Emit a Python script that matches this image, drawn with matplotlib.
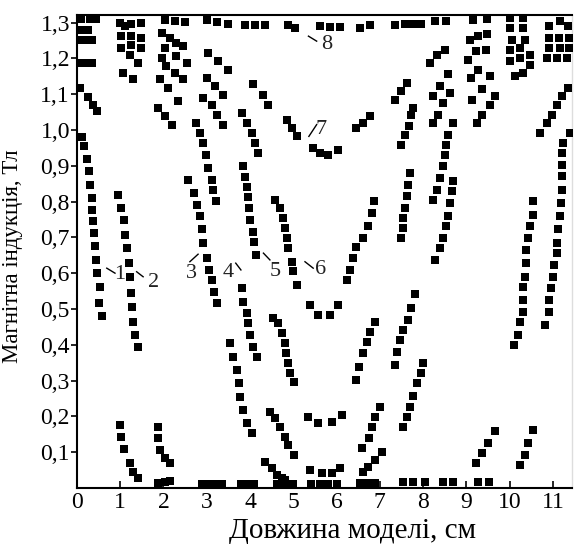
import matplotlib
matplotlib.use("Agg")
import matplotlib.pyplot as plt

# curves (x in cm, y in T)
c1_x = [0.11, 0.16, 0.24, 0.28, 0.30, 0.34, 0.36, 0.38, 0.39, 0.42, 0.44, 0.46, 0.53, 0.52, 0.57]
c1_y = [0.98, 0.955, 0.92, 0.886, 0.846, 0.81, 0.777, 0.746, 0.712, 0.676, 0.637, 0.60, 0.561, 0.517, 0.48]
c1_top_x = [0.07, 0.26, 0.38, 0.47]
c1_top_y = [1.117, 1.091, 1.071, 1.054]
corner_x = [0.05, 0.20, 0.35, 0.05, 0.20, 0.35, 0.10, 0.25, 0.10, 0.30, 0.45]
corner_y = [1.187, 1.187, 1.187, 1.25, 1.25, 1.25, 1.28, 1.28, 1.31, 1.31, 1.31]

c2_x = [0.95, 1.03, 1.09, 1.11, 1.15, 1.21, 1.22, 1.26, 1.28, 1.29, 1.34, 1.42]
c2_y = [0.819, 0.782, 0.749, 0.707, 0.67, 0.628, 0.59, 0.544, 0.506, 0.464, 0.427, 0.395]
c2_low_x = [0.99, 1.03, 1.09, 1.22, 1.30, 1.42]
c2_low_y = [0.176, 0.143, 0.109, 0.069, 0.046, 0.027]
c2b_low_x = [1.88, 1.88, 1.92, 2.03, 2.15]
c2b_low_y = [0.171, 0.139, 0.106, 0.083, 0.069]

c3_x = [2.57, 2.70, 2.78, 2.84, 2.90, 2.92, 3.00, 3.06, 3.11, 3.17, 3.23]
c3_y = [0.861, 0.824, 0.791, 0.759, 0.722, 0.684, 0.642, 0.609, 0.581, 0.548, 0.516]
c3_up_x = [2.75, 2.84, 2.92, 2.98, 3.03, 3.11, 3.15, 3.21]
c3_up_y = [1.02, 0.992, 0.964, 0.931, 0.894, 0.861, 0.833, 0.801]

c4a_x = [3.83, 3.88, 3.94, 3.96, 3.98, 4.01, 4.06, 4.09, 4.14]
c4a_y = [0.898, 0.869, 0.841, 0.813, 0.781, 0.749, 0.716, 0.688, 0.651]
c4b_x = [3.81, 3.84, 3.92, 3.96, 4.01, 4.07, 4.15]
c4b_y = [0.558, 0.52, 0.488, 0.46, 0.427, 0.395, 0.365]
c4c_x = [3.54, 3.61, 3.69, 3.75, 3.78, 3.84, 3.92, 4.04]
c4c_y = [0.404, 0.367, 0.33, 0.292, 0.255, 0.218, 0.181, 0.153]

c5a_x = [3.81, 3.92, 4.04, 4.11, 4.19]
c5a_y = [1.047, 1.02, 0.992, 0.964, 0.936]
c5b_x = [4.07, 4.31, 4.42]
c5b_y = [1.127, 1.097, 1.071]
c5_low_x = [4.54, 4.65, 4.73, 4.81, 4.82, 4.87, 4.92, 5.02]
c5_low_y = [0.474, 0.46, 0.432, 0.404, 0.376, 0.348, 0.32, 0.297]
c5_low2_x = [4.46, 4.58, 4.69, 4.81, 4.88, 5.02]
c5_low2_y = [0.213, 0.195, 0.171, 0.143, 0.12, 0.092]
c5_low3_x = [4.34, 4.50, 4.62, 4.73, 4.81]
c5_low3_y = [0.073, 0.055, 0.036, 0.027, 0.022]

c6_x = [4.58, 4.69, 4.77, 4.81, 4.85, 4.88, 4.96, 4.99, 5.08]
c6_y = [0.805, 0.782, 0.754, 0.726, 0.698, 0.67, 0.632, 0.605, 0.567]

c7_x = [4.85, 4.96, 5.08, 5.46, 5.62, 5.81, 6.04, 6.46, 6.62, 6.77]
c7_y = [1.029, 1.006, 0.982, 0.95, 0.936, 0.931, 0.945, 1.006, 1.02, 1.038]

bowl_mid_x = [5.39, 5.58, 5.85, 6.04]
bowl_mid_y = [0.511, 0.483, 0.483, 0.511]
bowl_low_x = [5.35, 5.58, 5.89, 6.12]
bowl_low_y = [0.199, 0.181, 0.185, 0.204]
bowl_bot_x = [5.39, 5.66, 5.89, 6.08]
bowl_bot_y = [0.05, 0.041, 0.041, 0.057]

# upper-left short diagonal strokes
ul_x = [3.03, 3.27, 3.50, 3.00, 3.19, 3.37, 2.92, 3.11, 3.23, 3.38,
        1.96, 2.15, 2.30, 2.46, 2.03, 2.30, 2.54, 1.96, 2.07, 2.26, 2.46,
        1.92, 2.11, 2.34, 1.88, 2.03, 2.19,
        0.99, 1.11, 1.26, 1.49, 1.03, 1.26, 1.49, 1.26, 1.49, 1.03, 1.22, 1.42, 1.07, 1.30,
        2.03, 2.26, 2.50, 3.00, 3.23, 3.50]
ul_y = [1.215, 1.192, 1.168, 1.145, 1.122, 1.097, 1.089, 1.071, 1.043, 1.015,
        1.271, 1.257, 1.243, 1.234, 1.229, 1.206, 1.187, 1.201, 1.178, 1.159, 1.141,
        1.141, 1.117, 1.08, 1.061, 1.038, 1.015,
        1.299, 1.29, 1.295, 1.299, 1.262, 1.262, 1.257, 1.238, 1.229, 1.229, 1.21, 1.187, 1.159, 1.141,
        1.308, 1.305, 1.302, 1.308, 1.302, 1.296]

# top row (curve 8)
c8_x = [3.88, 4.11, 4.34, 4.88, 5.04, 5.62, 5.85, 6.08, 6.54, 6.77, 7.35, 7.58,
        7.77, 7.95, 8.27, 8.54, 9.16, 9.47, 10.0, 10.31]
c8_y = [1.294, 1.294, 1.294, 1.292, 1.285, 1.29, 1.287, 1.287, 1.285, 1.292, 1.294, 1.296,
        1.296, 1.296, 1.304, 1.305, 1.308, 1.31, 1.313, 1.313]

# right half
r6_x = [6.23, 6.31, 6.39, 6.46, 6.62, 6.73, 6.81, 6.87]
r6_y = [0.581, 0.609, 0.642, 0.672, 0.698, 0.731, 0.768, 0.801]
r5_low_x = [6.45, 6.52, 6.62, 6.71, 6.77, 6.89]
r5_low_y = [0.302, 0.339, 0.376, 0.409, 0.437, 0.465]
r5_low2_x = [6.58, 6.76, 6.81, 6.89, 7.00]
r5_low2_y = [0.111, 0.139, 0.171, 0.199, 0.227]
r5_low3_x = [6.62, 6.73, 6.89, 7.04]
r5_low3_y = [0.046, 0.059, 0.078, 0.101]
r4a_x = [7.50, 7.53, 7.54, 7.58, 7.62, 7.66, 7.70]
r4a_y = [0.698, 0.726, 0.754, 0.782, 0.815, 0.847, 0.88]
r4b_x = [7.35, 7.39, 7.46, 7.53, 7.66, 7.73, 7.81]
r4b_y = [0.344, 0.381, 0.413, 0.441, 0.469, 0.502, 0.542]
r4c_x = [7.53, 7.62, 7.70, 7.77, 7.86, 7.94, 7.99]
r4c_y = [0.171, 0.199, 0.227, 0.258, 0.292, 0.32, 0.348]
r5a_x = [7.50, 7.58, 7.68, 7.73, 7.77]
r5a_y = [0.959, 0.985, 1.012, 1.043, 1.061]
r5b_x = [7.35, 7.50, 7.62]
r5b_y = [1.085, 1.108, 1.131]
r3_x = [8.27, 8.39, 8.47, 8.54, 8.58, 8.62, 8.66, 8.70]
r3_y = [0.637, 0.67, 0.698, 0.731, 0.759, 0.796, 0.829, 0.857]
r3_up_x = [8.23, 8.31, 8.39, 8.47, 8.50, 8.54, 8.58, 8.70]
r3_up_y = [0.805, 0.833, 0.866, 0.899, 0.931, 0.959, 0.987, 1.02]

# upper-right short diagonal strokes
ur_x = [8.16, 8.31, 8.50, 8.23, 8.39, 8.58, 8.23, 8.35, 8.47, 8.62,
        9.08, 9.27, 9.47, 9.04, 9.23, 9.45, 9.10, 9.27, 9.12, 9.35, 9.54,
        9.24, 9.35, 9.54, 9.66]
ur_y = [1.187, 1.21, 1.224, 1.094, 1.122, 1.155, 1.02, 1.043, 1.075, 1.103,
        1.252, 1.262, 1.268, 1.196, 1.22, 1.224, 1.145, 1.168, 1.085, 1.113, 1.15,
        1.02, 1.043, 1.071, 1.094]

# dense cluster in the upper-right corner
rc_x = [10.0, 10.31, 10.05, 10.35, 10.0, 10.24, 10.0, 10.24, 10.47, 10.12, 10.31, 10.47,
        10.90, 11.16, 11.35, 10.90, 11.13, 11.36, 10.90, 11.16, 11.38, 10.86, 11.09, 11.32]
rc_y = [1.285, 1.285, 1.252, 1.252, 1.224, 1.229, 1.192, 1.201, 1.21, 1.15, 1.159, 1.182,
        1.29, 1.304, 1.29, 1.257, 1.257, 1.257, 1.229, 1.229, 1.229, 1.201, 1.201, 1.201]

rj_x = [10.70, 10.86, 10.97, 11.09, 11.20, 11.35]
rj_y = [0.992, 1.02, 1.043, 1.071, 1.094, 1.117]
rk_x = [11.39, 11.24, 11.20, 11.20, 11.20, 11.20, 11.18, 11.16, 11.12, 11.09, 11.09,
        11.02, 10.99, 10.95, 10.92, 10.91, 10.82]
rk_y = [0.992, 0.964, 0.936, 0.903, 0.871, 0.833, 0.796, 0.759, 0.722, 0.684, 0.656,
        0.623, 0.59, 0.558, 0.525, 0.492, 0.455]
rl_x = [10.55, 10.55, 10.47, 10.43, 10.38, 10.38, 10.35, 10.30, 10.30, 10.30, 10.25, 10.20, 10.11]
rl_y = [0.801, 0.763, 0.731, 0.698, 0.665, 0.628, 0.59, 0.562, 0.525, 0.492, 0.465, 0.427, 0.399]
br1_x = [9.22, 9.35, 9.51, 9.66]
br1_y = [0.069, 0.097, 0.125, 0.159]
br2_x = [10.25, 10.35, 10.43, 10.53]
br2_y = [0.064, 0.092, 0.125, 0.162]

# squares lying on the x axis
floor_x = [1.87, 2.03, 2.15, 2.90, 3.05, 3.20, 3.35, 3.80, 3.95, 4.10, 4.62, 4.81, 5.00,
           5.42, 5.62, 5.81, 6.00, 6.54, 6.73, 6.89, 7.54, 7.77, 8.04, 8.47, 8.70, 9.27, 9.53]
floor_y = [0.015, 0.017, 0.02, 0.012, 0.012, 0.012, 0.012, 0.012, 0.012, 0.012, 0.01, 0.01, 0.01,
           0.01, 0.01, 0.01, 0.01, 0.013, 0.013, 0.013, 0.017, 0.017, 0.017, 0.017, 0.017, 0.017, 0.017]

SERIES = [
    (c1_x, c1_y), (c1_top_x, c1_top_y), (corner_x, corner_y),
    (c2_x, c2_y), (c2_low_x, c2_low_y), (c2b_low_x, c2b_low_y),
    (c3_x, c3_y), (c3_up_x, c3_up_y),
    (c4a_x, c4a_y), (c4b_x, c4b_y), (c4c_x, c4c_y),
    (c5a_x, c5a_y), (c5b_x, c5b_y), (c5_low_x, c5_low_y), (c5_low2_x, c5_low2_y), (c5_low3_x, c5_low3_y),
    (c6_x, c6_y), (c7_x, c7_y),
    (bowl_mid_x, bowl_mid_y), (bowl_low_x, bowl_low_y), (bowl_bot_x, bowl_bot_y),
    (ul_x, ul_y), (c8_x, c8_y),
    (r6_x, r6_y), (r5_low_x, r5_low_y), (r5_low2_x, r5_low2_y), (r5_low3_x, r5_low3_y),
    (r4a_x, r4a_y), (r4b_x, r4b_y), (r4c_x, r4c_y), (r5a_x, r5a_y), (r5b_x, r5b_y),
    (r3_x, r3_y), (r3_up_x, r3_up_y), (ur_x, ur_y), (rc_x, rc_y),
    (rj_x, rj_y), (rk_x, rk_y), (rl_x, rl_y), (br1_x, br1_y), (br2_x, br2_y),
    (floor_x, floor_y),
]

# curve numbers: label text, text position, leader line
LABELS = [
    ("1", (0.99, 0.595), (0.69, 0.614), (0.88, 0.600)),
    ("2", (1.76, 0.573), (1.38, 0.604), (1.53, 0.590)),
    ("3", (2.65, 0.600), (2.61, 0.632), (2.80, 0.653)),
    ("4", (3.49, 0.603), (3.67, 0.628), (3.79, 0.609)),
    ("5", (4.58, 0.604), (4.31, 0.656), (4.46, 0.637)),
    ("6", (5.62, 0.609), (5.27, 0.632), (5.46, 0.614)),
    ("7", (5.64, 1.000), (5.36, 0.982), (5.54, 1.015)),
    ("8", (5.77, 1.238), (5.35, 1.262), (5.54, 1.248)),
]

XTICKS = list(range(12))
YTICKS = [0.1, 0.2, 0.3, 0.4, 0.5, 0.6, 0.7, 0.8, 0.9, 1.0, 1.1, 1.2, 1.3]

plt.rcParams["font.family"] = ["Liberation Serif", "DejaVu Serif"]

fig = plt.figure(figsize=(5.74, 5.5), dpi=100)
ax = fig.add_axes([0.134, 0.1127, 0.8625, 0.86])

for xs, ys in SERIES:
    ax.scatter(xs, ys, marker="s", s=34, color="black", linewidths=0, zorder=3)

for txt, (tx, ty), (lx0, ly0), (lx1, ly1) in LABELS:
    ax.plot([lx0, lx1], [ly0, ly1], color="black", linewidth=1.0)
    ax.text(tx, ty, txt, fontsize=16, ha="center", va="center", color="#222222")

ax.set_xlim(0, 11.44)
ax.set_ylim(0, 1.321)
ax.set_xticks(XTICKS)
ax.set_xticklabels([str(v) for v in XTICKS], fontsize=17)
ax.set_yticks(YTICKS)
ax.set_yticklabels([f"{v:.1f}".replace(".", ",") for v in YTICKS], fontsize=17)
ax.tick_params(axis="x", direction="in", length=5, width=1.2, pad=3)
ax.tick_params(axis="y", direction="out", length=4, width=1.2, pad=1)

for side in ("left", "bottom", "top"):
    ax.spines[side].set_linewidth(1.5)
ax.spines["right"].set_color("#dddddd")
ax.spines["right"].set_linewidth(1.0)

ax.set_xlabel("Довжина моделі, см", fontsize=21)
ax.xaxis.set_label_coords(0.556, -0.063)
ax.set_ylabel("Магнітна індукція, Тл", fontsize=16.5)
ax.yaxis.set_label_coords(-0.108, 0.49)

fig.savefig("out.png", dpi=100)
